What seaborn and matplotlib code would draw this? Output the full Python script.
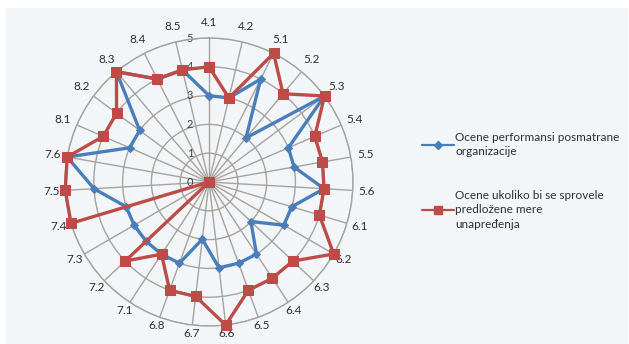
import numpy as np
import matplotlib
matplotlib.use("Agg")
import matplotlib.pyplot as plt
from matplotlib.patches import Rectangle
from matplotlib.lines import Line2D
import seaborn as sns

categories = ["4.1", "4.2", "5.1", "5.2", "5.3", "5.4", "5.5", "5.6", "6.1",
              "6.2", "6.3", "6.4", "6.5", "6.6", "6.7", "6.8", "7.1", "7.2",
              "7.3", "7.4", "7.5", "7.6", "8.1", "8.2", "8.3", "8.4", "8.5"]
current_scores = [3, 3, 4, 2, 5, 3, 3, 4, 3, 3, 2, 3, 3, 3, 2, 3, 3, 3,
                  3, 3, 4, 5, 3, 3, 5, 4, 4]
improved_scores = [4, 3, 5, 4, 5, 4, 4, 4, 4, 5, 4, 4, 4, 5, 4, 4, 3, 4,
                   0, 5, 5, 5, 4, 4, 5, 4, 4]
radial_ticks = [0, 1, 2, 3, 4, 5]
series_names = ["Ocene performansi posmatrane\norganizacije",
                "Ocene ukoliko bi se sprovele\npredložene mere\nunapređenja"]

sns.set_theme(style="white")
plt.rcParams["font.family"] = ["Lato", "DejaVu Sans"]

BLUE = "#4a7ebb"
RED = "#be4b48"
GRID = "#a8a29d"
PANEL = "#f3f6f8"
TEXT = "#2e2e2e"

fig = plt.figure(figsize=(6.29, 3.44), dpi=100)
fig.patch.set_facecolor("white")
fig.patches.append(Rectangle((6 / 629, 0), 622 / 629, 336 / 344,
                             transform=fig.transFigure, facecolor=PANEL,
                             edgecolor="none", zorder=-10))

cx, cy, R = 209, 182, 144
ax = fig.add_axes([(cx - R) / 629, (344 - cy - R) / 344, 2 * R / 629, 2 * R / 344],
                  projection="polar")
ax.set_facecolor("none")
ax.set_theta_zero_location("N")
ax.set_theta_direction(-1)

n = len(categories)
angles = np.arange(n) * 2 * np.pi / n

# closed polygons for both series
ang_c = np.append(angles, angles[0])
cur_c = np.append(current_scores, current_scores[0])
imp_c = np.append(improved_scores, improved_scores[0])

sns.lineplot(x=ang_c, y=cur_c, ax=ax, sort=False, color=BLUE, lw=2.4,
             marker="D", markersize=4.2, markeredgecolor=BLUE, zorder=3,
             estimator=None, clip_on=False)
sns.lineplot(x=ang_c, y=imp_c, ax=ax, sort=False, color=RED, lw=2.4,
             marker="s", markersize=6.8, markeredgecolor=RED, zorder=4,
             estimator=None, clip_on=False)

ax.set_ylim(0, 5)
ax.set_yticks(radial_ticks[1:])
ax.set_yticklabels([])
ax.set_xticks(angles)
ax.set_xticklabels([])
ax.set_xlabel("")
ax.set_ylabel("")
ax.grid(True, color=GRID, lw=1.0)
ax.spines["polar"].set_color(GRID)
ax.spines["polar"].set_linewidth(1.0)

# radial value labels just left of the top spoke
for v in radial_ticks:
    ax.annotate(str(v), xy=(0, v), xytext=(-19, 0), textcoords="offset pixels",
                fontsize=8, color="#404040", ha="center", va="center", zorder=2)

# category labels around the rim
for a, lab in zip(angles, categories):
    c = np.cos(a)
    r_lab = 5.5 + (0.05 * c if c >= 0 else 0.2 * c)
    ax.text(a, r_lab, lab, fontsize=8.5, color=TEXT,
            ha="center", va="center", zorder=1)

handles = [Line2D([], [], color=BLUE, lw=1.6, marker="D", markersize=3.8),
           Line2D([], [], color=RED, lw=1.6, marker="s", markersize=5.5)]
leg = fig.legend(handles, series_names, loc="upper left",
                 bbox_to_anchor=(411 / 629, 1 - 121 / 344), frameon=False,
                 fontsize=8.5, handlelength=2.7, handletextpad=0.15,
                 labelspacing=2.75, labelcolor=TEXT)
for t in leg.get_texts():
    t.set_linespacing(1.4)

fig.savefig("out.png", dpi=100, facecolor=fig.get_facecolor())
